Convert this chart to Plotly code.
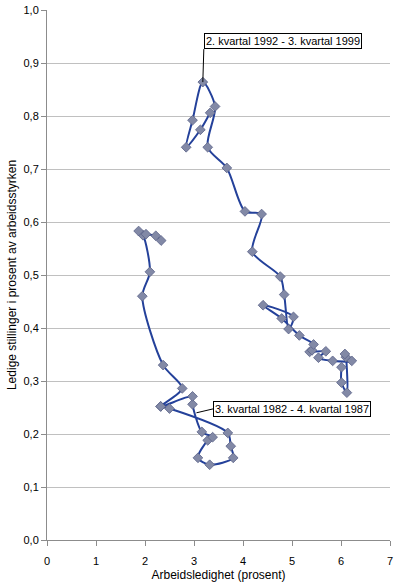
import plotly.graph_objects as go

# Series A: 3. kvartal 1982 - 4. kvartal 1987
a_unemp = [2.32, 2.50, 3.69, 3.75, 3.80, 3.32, 3.08, 3.28, 3.38, 3.16, 2.97, 2.97,
           2.32, 2.76, 2.37, 1.945, 2.10, 1.96, 1.87, 2.02, 2.22, 2.33]
a_vac = [0.252, 0.248, 0.202, 0.177, 0.155, 0.142, 0.155, 0.188, 0.194, 0.204, 0.256, 0.271,
         0.252, 0.286, 0.330, 0.460, 0.506, 0.575, 0.583, 0.577, 0.574, 0.565]

# Series B: 2. kvartal 1992 - 3. kvartal 1999
b_unemp = [6.01, 6.01, 6.12, 6.10, 6.08, 6.22, 5.83, 5.54, 5.69, 5.36, 5.41, 5.44,
           5.15, 4.79, 4.41, 5.03, 4.93, 4.84, 4.76, 4.19, 4.38, 4.04, 3.67, 3.28,
           3.43, 3.18, 2.97, 2.84, 3.13, 3.33]
b_vac = [0.326, 0.297, 0.278, 0.345, 0.351, 0.338, 0.338, 0.344, 0.356, 0.355, 0.358, 0.369,
         0.386, 0.418, 0.443, 0.421, 0.398, 0.463, 0.497, 0.544, 0.615, 0.620, 0.702, 0.741,
         0.818, 0.864, 0.792, 0.741, 0.774, 0.806]

label_a = "3. kvartal 1982 - 4. kvartal 1987"
label_b = "2. kvartal 1992 - 3. kvartal 1999"

x_ticks = [0, 1, 2, 3, 4, 5, 6, 7]
y_ticks = [0.0, 0.1, 0.2, 0.3, 0.4, 0.5, 0.6, 0.7, 0.8, 0.9, 1.0]

LINE = "#24419A"
MARK = "#8289A6"
FONT = "Liberation Sans, Arial, sans-serif"

fig = go.Figure()
for xs, ys, name in [(a_unemp, a_vac, label_a), (b_unemp, b_vac, label_b)]:
    fig.add_trace(go.Scatter(
        x=xs, y=ys, name=name, mode="lines+markers",
        line=dict(color=LINE, width=2, shape="spline", smoothing=0.8),
        marker=dict(symbol="diamond", size=7.5, color=MARK,
                    line=dict(color="#5A6288", width=0.8)),
        showlegend=False, cliponaxis=False,
    ))

top_i = b_vac.index(max(b_vac))
fig.add_annotation(
    x=b_unemp[top_i], y=b_vac[top_i], text=label_b,
    showarrow=True, arrowhead=0, arrowwidth=1, arrowcolor="#000000",
    ax=1, ay=-33, xanchor="left", yanchor="bottom",
    bordercolor="#000000", borderwidth=1, borderpad=1, bgcolor="#FFFFFF",
    font=dict(family=FONT, size=11, color="#000000"),
)
fig.add_annotation(
    x=3.05, y=0.240, text=label_a,
    showarrow=True, arrowhead=0, arrowwidth=1, arrowcolor="#000000",
    ax=17, ay=-4, xanchor="left", yanchor="middle",
    bordercolor="#000000", borderwidth=1, borderpad=1, bgcolor="#FFFFFF",
    font=dict(family=FONT, size=11, color="#000000"),
)

fig.update_layout(
    width=397, height=587,
    margin=dict(l=47, r=4, t=7, b=47),
    paper_bgcolor="#FFFFFF", plot_bgcolor="#FFFFFF",
    separators=", ",
    font=dict(family=FONT, size=11, color="#000000"),
)
fig.update_xaxes(
    range=[0, 7], tickvals=x_ticks, ticktext=[str(v) for v in x_ticks],
    showgrid=False, zeroline=False,
    showline=True, linecolor="#8C8C8C", linewidth=1,
    ticks="outside", ticklen=5, tickcolor="#8C8C8C",
    ticklabelstandoff=6,
    title=dict(text="Arbeidsledighet (prosent)", font=dict(size=12), standoff=4),
)
fig.update_yaxes(
    range=[0, 1], tickvals=y_ticks, tickformat=".1f",
    showgrid=True, gridcolor="#C0C0C0", gridwidth=1, zeroline=False,
    showline=True, linecolor="#8C8C8C", linewidth=1,
    ticks="outside", ticklen=5, tickcolor="#8C8C8C",
    title=dict(text="Ledige stillinger i prosent av arbeidsstyrken", font=dict(size=12), standoff=4),
)

fig.write_html(
    "out.html",
    config={"displayModeBar": False},
    post_script="document.body.style.margin='0';document.body.style.overflow='hidden';",
)
